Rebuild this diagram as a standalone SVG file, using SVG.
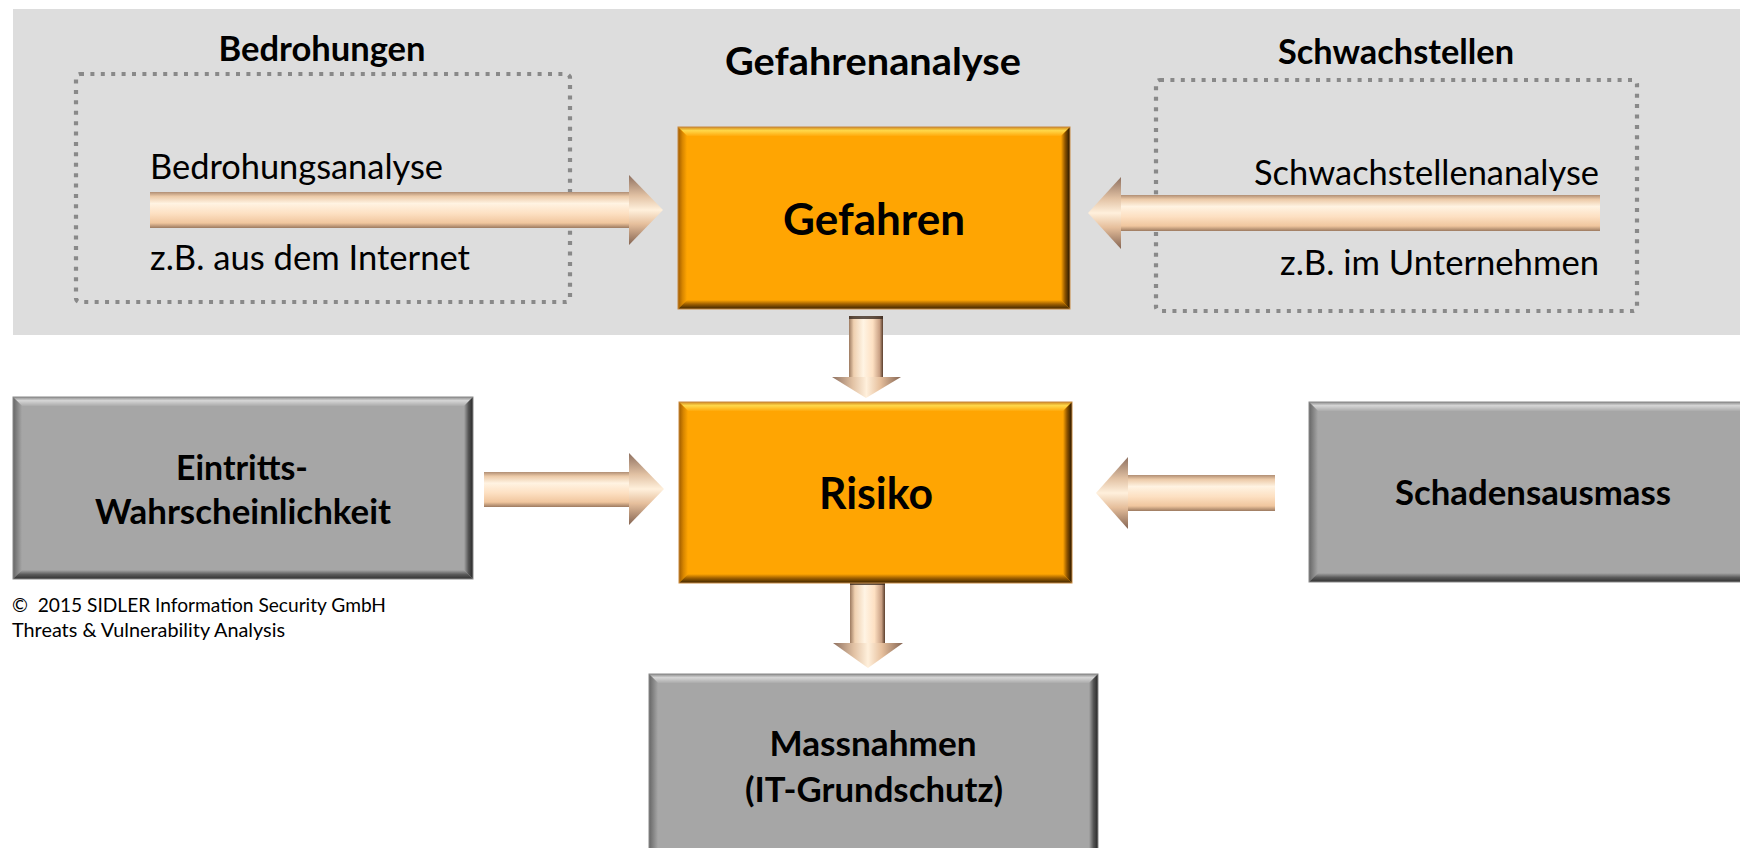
<svg xmlns="http://www.w3.org/2000/svg" width="1740" height="848" viewBox="0 0 1740 848">
<defs>
<style>
.t{font-family:Lato,"Liberation Sans",sans-serif;fill:#000}
.b{font-weight:bold}
.dot{fill:none;stroke:#898989;stroke-width:4.2;stroke-dasharray:4 6.4}
.of{fill:#FFA502}
.gf{fill:#A6A6A6}
</style>
<linearGradient id="oT" x1="0" y1="0" x2="0" y2="1"><stop offset="0" stop-color="#d08a20"/><stop offset="0.4" stop-color="#ffd84a"/><stop offset="1" stop-color="#ffaa0c"/></linearGradient>
<linearGradient id="oL" x1="0" y1="0" x2="1" y2="0"><stop offset="0" stop-color="#a05c00"/><stop offset="0.5" stop-color="#d88600"/><stop offset="1" stop-color="#ffa502"/></linearGradient>
<linearGradient id="oR" x1="0" y1="0" x2="1" y2="0"><stop offset="0" stop-color="#ffa502"/><stop offset="0.45" stop-color="#8e5400"/><stop offset="1" stop-color="#221300"/></linearGradient>
<linearGradient id="oB" x1="0" y1="0" x2="0" y2="1"><stop offset="0" stop-color="#ffa502"/><stop offset="0.45" stop-color="#a06000"/><stop offset="1" stop-color="#3a2200"/></linearGradient>
<linearGradient id="gT" x1="0" y1="0" x2="0" y2="1"><stop offset="0" stop-color="#8c8c8c"/><stop offset="0.4" stop-color="#d6d6d6"/><stop offset="1" stop-color="#ababab"/></linearGradient>
<linearGradient id="gL" x1="0" y1="0" x2="1" y2="0"><stop offset="0" stop-color="#666"/><stop offset="1" stop-color="#a6a6a6"/></linearGradient>
<linearGradient id="gR" x1="0" y1="0" x2="1" y2="0"><stop offset="0" stop-color="#a6a6a6"/><stop offset="0.5" stop-color="#555"/><stop offset="1" stop-color="#262626"/></linearGradient>
<linearGradient id="gB" x1="0" y1="0" x2="0" y2="1"><stop offset="0" stop-color="#a6a6a6"/><stop offset="0.5" stop-color="#5a5a5a"/><stop offset="1" stop-color="#303030"/></linearGradient>
<linearGradient id="aH" x1="0" y1="0" x2="0" y2="1"><stop offset="0" stop-color="#b08e74"/><stop offset="0.12" stop-color="#eccaa8"/><stop offset="0.32" stop-color="#fff3e2"/><stop offset="0.6" stop-color="#fde0c2"/><stop offset="0.86" stop-color="#f0c69e"/><stop offset="1" stop-color="#9c7a60"/></linearGradient>
<linearGradient id="aHd" x1="0" y1="0" x2="0" y2="1"><stop offset="0" stop-color="#8e7060"/><stop offset="0.3" stop-color="#e2c2a4"/><stop offset="0.5" stop-color="#fff0dc"/><stop offset="0.7" stop-color="#e6bf9c"/><stop offset="1" stop-color="#846452"/></linearGradient>
<linearGradient id="aV" x1="0" y1="0" x2="1" y2="0"><stop offset="0" stop-color="#9c7a60"/><stop offset="0.14" stop-color="#efd0b0"/><stop offset="0.42" stop-color="#fff4e4"/><stop offset="0.7" stop-color="#fde0c2"/><stop offset="0.9" stop-color="#c9a084"/><stop offset="1" stop-color="#5a3e2c"/></linearGradient>
<linearGradient id="aVd" x1="0" y1="0" x2="1" y2="0"><stop offset="0" stop-color="#8e7060"/><stop offset="0.3" stop-color="#e2c2a4"/><stop offset="0.5" stop-color="#fff0dc"/><stop offset="0.7" stop-color="#e6bf9c"/><stop offset="1" stop-color="#846452"/></linearGradient>
</defs>

<rect width="1740" height="848" fill="#fff"/>
<g id="band">
<rect x="13" y="9" width="1727" height="326" fill="#dddddd"/>
</g>

<g id="threats-area">
<rect class="dot" x="76" y="74" width="494" height="228" rx="4"/>
<text class="t b" x="322" y="61" font-size="34" text-anchor="middle" textLength="207" lengthAdjust="spacingAndGlyphs">Bedrohungen</text>
<text class="t" x="150" y="179" font-size="34" textLength="293" lengthAdjust="spacingAndGlyphs">Bedrohungsanalyse</text>
<text class="t" x="150" y="270" font-size="34" textLength="320" lengthAdjust="spacingAndGlyphs">z.B. aus dem Internet</text>
</g>

<g id="vuln-area">
<rect class="dot" x="1156" y="80" width="481" height="231" rx="4"/>
<text class="t b" x="1396" y="64" font-size="34" text-anchor="middle" textLength="236" lengthAdjust="spacingAndGlyphs">Schwachstellen</text>
<text class="t" x="1599" y="185" font-size="34" text-anchor="end" textLength="345" lengthAdjust="spacingAndGlyphs">Schwachstellenanalyse</text>
<text class="t" x="1599" y="275" font-size="34" text-anchor="end" textLength="319" lengthAdjust="spacingAndGlyphs">z.B. im Unternehmen</text>
</g>

<g id="title">
<text class="t b" x="873" y="75" font-size="38" text-anchor="middle" textLength="296" lengthAdjust="spacingAndGlyphs">Gefahrenanalyse</text>
</g>

<g id="connectors">
<rect x="150" y="192" width="480" height="36" fill="url(#aH)"/>
<polygon points="629,175 663,210 629,245" fill="url(#aHd)"/>
<rect x="1120" y="195" width="480" height="36" fill="url(#aH)"/>
<polygon points="1121,177 1088,213 1121,249" fill="url(#aHd)"/>
<rect x="849" y="316" width="34" height="62" fill="url(#aV)"/>
<rect x="849" y="316" width="34" height="3" fill="#3a2a20" opacity="0.8"/>
<polygon points="832,377 901,377 866,398" fill="url(#aVd)"/>
<rect x="484" y="472" width="146" height="35" fill="url(#aH)"/>
<polygon points="629,453 664,489 629,525" fill="url(#aHd)"/>
<rect x="1127" y="475" width="148" height="36" fill="url(#aH)"/>
<polygon points="1128,457 1096,493 1128,529" fill="url(#aHd)"/>
<rect x="850" y="582" width="35" height="62" fill="url(#aV)"/>
<rect x="850" y="582" width="35" height="3" fill="#3a2a20" opacity="0.8"/>
<polygon points="833,643 903,643 868,668" fill="url(#aVd)"/>
</g>

<g id="node-gefahren">
<rect class="of" x="678" y="127" width="392" height="182"/>
<polygon points="678,127 1070,127 1061,136 687,136" fill="url(#oT)"/>
<polygon points="678,127 687,136 687,300 678,309" fill="url(#oL)"/>
<polygon points="1070,127 1070,309 1061,300 1061,136" fill="url(#oR)"/>
<polygon points="678,309 687,300 1061,300 1070,309" fill="url(#oB)"/>
<rect x="678" y="127" width="392" height="182" fill="none" stroke="#c88a40" stroke-width="1"/>
<text class="t b" x="874" y="235" font-size="43" text-anchor="middle" textLength="182" lengthAdjust="spacingAndGlyphs">Gefahren</text>
</g>

<g id="node-risiko">
<rect class="of" x="679" y="402" width="393" height="181"/>
<polygon points="679,402 1072,402 1063,411 688,411" fill="url(#oT)"/>
<polygon points="679,402 688,411 688,574 679,583" fill="url(#oL)"/>
<polygon points="1072,402 1072,583 1063,574 1063,411" fill="url(#oR)"/>
<polygon points="679,583 688,574 1063,574 1072,583" fill="url(#oB)"/>
<rect x="679" y="402" width="393" height="181" fill="none" stroke="#c88a40" stroke-width="1"/>
<text class="t b" x="876" y="509" font-size="43" text-anchor="middle" textLength="114" lengthAdjust="spacingAndGlyphs">Risiko</text>
</g>

<g id="node-eintritt">
<rect class="gf" x="13" y="397" width="460" height="182"/>
<polygon points="13,397 473,397 464,406 22,406" fill="url(#gT)"/>
<polygon points="13,397 22,406 22,570 13,579" fill="url(#gL)"/>
<polygon points="473,397 473,579 464,570 464,406" fill="url(#gR)"/>
<polygon points="13,579 22,570 464,570 473,579" fill="url(#gB)"/>
<rect x="13" y="397" width="460" height="182" fill="none" stroke="#8a8a8a" stroke-width="1"/>
<text class="t b" x="242" y="480" font-size="34" text-anchor="middle" textLength="132" lengthAdjust="spacingAndGlyphs">Eintritts-</text>
<text class="t b" x="243" y="524" font-size="34" text-anchor="middle" textLength="296" lengthAdjust="spacingAndGlyphs">Wahrscheinlichkeit</text>
</g>

<g id="node-schaden">
<rect class="gf" x="1309" y="402" width="460" height="180"/>
<polygon points="1309,402 1769,402 1760,411 1318,411" fill="url(#gT)"/>
<polygon points="1309,402 1318,411 1318,573 1309,582" fill="url(#gL)"/>
<polygon points="1309,582 1318,573 1760,573 1769,582" fill="url(#gB)"/>
<rect x="1309" y="402" width="460" height="180" fill="none" stroke="#8a8a8a" stroke-width="1"/>
<text class="t b" x="1533" y="505" font-size="34" text-anchor="middle" textLength="276" lengthAdjust="spacingAndGlyphs">Schadensausmass</text>
</g>

<g id="node-massnahmen">
<rect class="gf" x="649" y="674" width="449" height="190"/>
<polygon points="649,674 1098,674 1089,683 658,683" fill="url(#gT)"/>
<polygon points="649,674 658,683 658,864 649,864" fill="url(#gL)"/>
<polygon points="1098,674 1098,864 1089,864 1089,683" fill="url(#gR)"/>
<rect x="649" y="674" width="449" height="190" fill="none" stroke="#8a8a8a" stroke-width="1"/>
<text class="t b" x="873" y="756" font-size="34" text-anchor="middle" textLength="207" lengthAdjust="spacingAndGlyphs">Massnahmen</text>
<text class="t b" x="874" y="802" font-size="34" text-anchor="middle" textLength="258" lengthAdjust="spacingAndGlyphs">(IT-Grundschutz)</text>
</g>

<g id="copyright">
<text class="t" x="12" y="612" font-size="19" textLength="374" lengthAdjust="spacingAndGlyphs">©&#160; 2015 SIDLER Information Security GmbH</text>
<text class="t" x="12" y="637" font-size="19" textLength="273" lengthAdjust="spacingAndGlyphs">Threats &amp; Vulnerability Analysis</text>
</g>
</svg>
